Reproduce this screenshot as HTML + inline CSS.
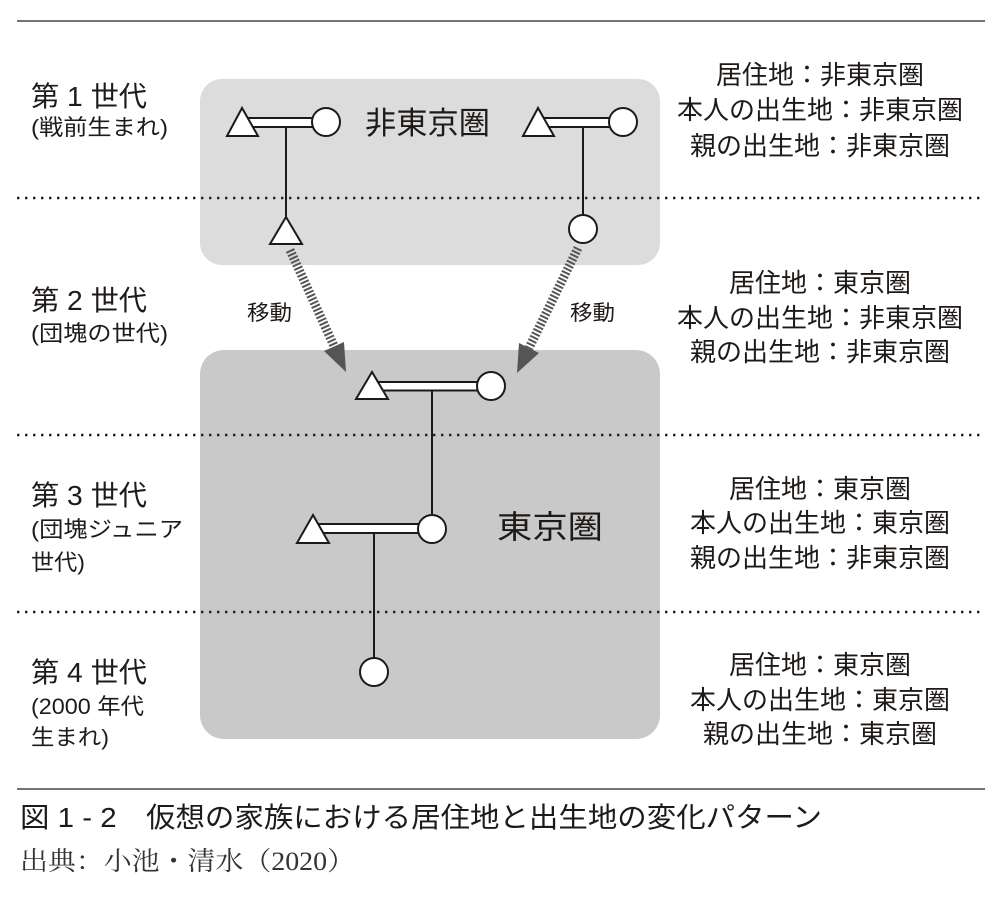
<!DOCTYPE html>
<html><head><meta charset="utf-8"><style>
html,body{margin:0;padding:0;background:#fff;}
svg{display:block;}
text{font-family:"Liberation Sans","Noto Sans CJK JP",sans-serif;fill:#1e1a18;}
.serif{font-family:"Liberation Serif","Noto Serif CJK SC",serif;fill:#333;}
</style></head><body>
<svg width="1000" height="900" viewBox="0 0 1000 900" xmlns="http://www.w3.org/2000/svg">
<!-- boxes -->
<rect x="200" y="79" width="460" height="186" rx="22" ry="22" fill="#dcdcdc"/>
<rect x="200" y="350" width="460" height="389" rx="24" ry="24" fill="#c9c9c9"/>
<!-- solid rules -->
<line x1="17" y1="21" x2="985" y2="21" stroke="#222" stroke-width="1.3"/>
<line x1="17" y1="789" x2="985" y2="789" stroke="#222" stroke-width="1.3"/>
<!-- dotted -->
<g stroke="#222" stroke-width="2.6" stroke-dasharray="2.4 5.6">
<line x1="17" y1="198" x2="985" y2="198"/>
<line x1="17" y1="435" x2="985" y2="435"/>
<line x1="17" y1="612" x2="985" y2="612"/>
</g>
<!-- hatched arrows -->
<g stroke="#555" stroke-width="9" stroke-dasharray="2 1.8">
<line x1="290" y1="250" x2="334" y2="346"/>
<line x1="578" y1="248" x2="529" y2="348"/>
</g>
<polygon points="344,342 324,351 346,372" fill="#555"/>
<polygon points="539,353 519,343 517,373" fill="#555"/>
<!-- family lines -->
<g stroke="#1a1a1a" stroke-width="2" fill="none">
<line x1="286" y1="127" x2="286" y2="218"/>
<line x1="583" y1="127" x2="583" y2="215"/>
<line x1="432" y1="390" x2="432" y2="515"/>
<line x1="374" y1="533" x2="374" y2="658"/>
</g>
<g stroke="#1a1a1a" stroke-width="2" fill="#fff">
<!-- gen1 left -->
<rect x="242" y="118" width="84" height="9"/>
<polygon points="227,136 242,108 258,136"/>
<circle cx="326" cy="122" r="14"/>
<polygon points="270,244 286,217 302,244"/>
<!-- gen1 right -->
<rect x="538" y="118" width="85" height="9"/>
<polygon points="523,136 538,108 554,136"/>
<circle cx="623" cy="122" r="14"/>
<circle cx="583" cy="229" r="14"/>
<!-- gen2 -->
<rect x="372" y="382" width="119" height="8.5"/>
<polygon points="356,399 372,372 388,399"/>
<circle cx="491" cy="386" r="14"/>
<!-- gen3 -->
<rect x="313" y="524" width="119" height="9"/>
<polygon points="297,543 313,515 329,543"/>
<circle cx="432" cy="529" r="14"/>
<!-- gen4 -->
<circle cx="374" cy="672" r="14"/>
</g>
<!-- region labels -->
<text x="365" y="134" font-size="31" textLength="125" lengthAdjust="spacingAndGlyphs">非東京圏</text>
<text x="497" y="538" font-size="32" textLength="106" lengthAdjust="spacingAndGlyphs">東京圏</text>
<text x="247" y="320" font-size="21" textLength="45" lengthAdjust="spacingAndGlyphs">移動</text>
<text x="570" y="320" font-size="21" textLength="45" lengthAdjust="spacingAndGlyphs">移動</text>
<!-- left generation labels -->
<g font-size="28">
<text x="31" y="106" textLength="116" lengthAdjust="spacingAndGlyphs">第 1 世代</text>
<text x="31" y="310" textLength="116" lengthAdjust="spacingAndGlyphs">第 2 世代</text>
<text x="31" y="505" textLength="116" lengthAdjust="spacingAndGlyphs">第 3 世代</text>
<text x="31" y="682" textLength="116" lengthAdjust="spacingAndGlyphs">第 4 世代</text>
</g>
<g font-size="22">
<text x="31" y="135" textLength="137" lengthAdjust="spacingAndGlyphs">(戦前生まれ)</text>
<text x="31" y="341" textLength="137" lengthAdjust="spacingAndGlyphs">(団塊の世代)</text>
<text x="31" y="537" textLength="152" lengthAdjust="spacingAndGlyphs">(団塊ジュニア</text>
<text x="31" y="570" textLength="54" lengthAdjust="spacingAndGlyphs">世代)</text>
<text x="31" y="714" textLength="113" lengthAdjust="spacingAndGlyphs">(2000 年代</text>
<text x="31" y="745" textLength="78" lengthAdjust="spacingAndGlyphs">生まれ)</text>
</g>
<!-- right labels -->
<g font-size="26" text-anchor="middle">
<text x="820" y="84">居住地：非東京圏</text>
<text x="820" y="119">本人の出生地：非東京圏</text>
<text x="820" y="155">親の出生地：非東京圏</text>
<text x="820" y="292">居住地：東京圏</text>
<text x="820" y="327">本人の出生地：非東京圏</text>
<text x="820" y="361">親の出生地：非東京圏</text>
<text x="820" y="498">居住地：東京圏</text>
<text x="820" y="532">本人の出生地：東京圏</text>
<text x="820" y="567">親の出生地：非東京圏</text>
<text x="820" y="674">居住地：東京圏</text>
<text x="820" y="709">本人の出生地：東京圏</text>
<text x="820" y="743">親の出生地：東京圏</text>
</g>
<!-- caption -->
<text x="20" y="827" font-size="28" textLength="802" lengthAdjust="spacingAndGlyphs">図 1 - 2　仮想の家族における居住地と出生地の変化パターン</text>
<text class="serif" x="20" y="870" font-size="26" textLength="335" lengthAdjust="spacingAndGlyphs">出典：小池・清水（2020）</text>
</svg>
</body></html>
